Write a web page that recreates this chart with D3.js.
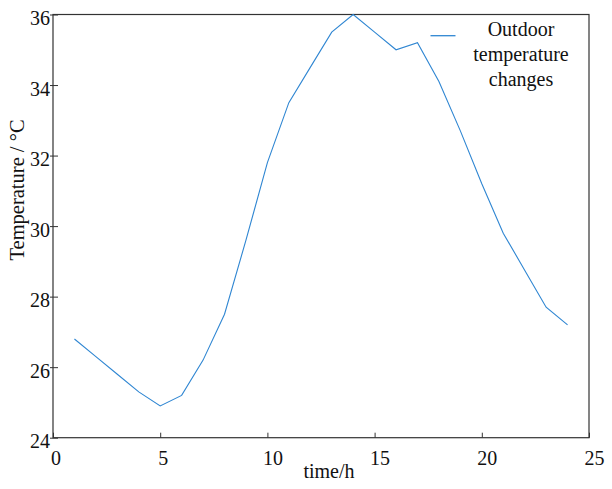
<!DOCTYPE html>
<html>
<head>
<meta charset="utf-8">
<script src="https://cdn.jsdelivr.net/npm/d3@7"></script>
<style>
  html, body { margin: 0; padding: 0; background: #fff; }
  svg { display: block; }
</style>
</head>
<body>
<svg id="chart" width="612" height="489"></svg>
<script>
const hours = [1,2,3,4,5,6,7,8,9,10,11,12,13,14,15,16,17,18,19,20,21,22,23,24];
const temperature = [26.8,26.3,25.8,25.3,24.9,25.2,26.2,27.5,29.6,31.8,33.5,34.5,35.5,36.0,35.5,35.0,35.2,34.1,32.7,31.2,29.8,28.75,27.7,27.2];
const xTicks = [0,5,10,15,20,25];
const yTicks = [24,26,28,30,32,34,36];
const seriesName = ["Outdoor", "temperature", "changes"];
const xLabel = "time/h";
const yLabel = "Temperature / °C";

const plotLeft = 53, plotRight = 589, plotTop = 14.5, plotBottom = 437.7;
const lineColor = "#2f86d2";
const axisColor = "#333";
const textColor = "#111";
const FONT = "'Liberation Serif'";

const svg = d3.select("#chart");
const x = d3.scaleLinear().domain([0,25]).range([plotLeft,plotRight]);
const y = d3.scaleLinear().domain([24,36]).range([plotBottom,plotTop]);

// box
svg.append("rect")
  .attr("x", plotLeft).attr("y", plotTop)
  .attr("width", plotRight-plotLeft).attr("height", plotBottom-plotTop)
  .attr("fill", "none").attr("stroke", axisColor).attr("stroke-width", 1.2);

// x axis
const xAxis = d3.axisBottom(x).tickValues(xTicks).tickSize(-5).tickSizeOuter(0).tickPadding(0);
const gx = svg.append("g").attr("transform", `translate(0,${plotBottom})`).call(xAxis);
gx.attr("font-family", null);
gx.select(".domain").remove();
gx.selectAll(".tick line").attr("stroke", axisColor);
gx.selectAll(".tick text")
  .attr("fill", textColor)
  .attr("y", 27).attr("dy", 0)
  .attr("dx", d => d >= 10 ? 5 : 2.5)
  .style("font-family", FONT).style("font-size", "20px");

// y axis
const yAxis = d3.axisLeft(y).tickValues(yTicks).tickSize(3).tickSizeOuter(0).tickPadding(0);
const gy = svg.append("g").attr("transform", `translate(${plotLeft},0)`).call(yAxis);
gy.attr("font-family", null);
gy.select(".domain").remove();
gy.selectAll(".tick line").attr("stroke", axisColor).attr("x1", 5).attr("x2", -3);
gy.selectAll(".tick text")
  .attr("fill", textColor)
  .attr("x", -3).attr("dy", 0).attr("y", 10)
  .style("font-family", FONT).style("font-size", "20px");

// line
const line = d3.line().x((d,i) => x(hours[i])).y(d => y(d));
svg.append("path")
  .datum(temperature)
  .attr("d", line)
  .attr("fill", "none")
  .attr("stroke", lineColor)
  .attr("stroke-width", 1.1);

// axis labels
svg.append("text")
  .attr("x", 329).attr("y", 478)
  .attr("text-anchor", "middle")
  .attr("fill", textColor)
  .style("font-family", FONT).style("font-size", "20px")
  .text(xLabel);

svg.append("text")
  .attr("transform", "translate(24,190) rotate(-90)")
  .attr("text-anchor", "middle")
  .attr("fill", textColor)
  .style("font-family", FONT).style("font-size", "20.5px")
  .text(yLabel);

// legend
svg.append("line")
  .attr("x1", 430.5).attr("x2", 455.5)
  .attr("y1", 35.7).attr("y2", 35.7)
  .attr("stroke", lineColor).attr("stroke-width", 1.3);

svg.append("g").selectAll("text")
  .data(seriesName)
  .join("text")
  .attr("x", 521)
  .attr("y", (d,i) => 36 + i*25)
  .attr("text-anchor", "middle")
  .attr("fill", textColor)
  .style("font-family", FONT).style("font-size", "20px")
  .text(d => d);
</script>
</body>
</html>
